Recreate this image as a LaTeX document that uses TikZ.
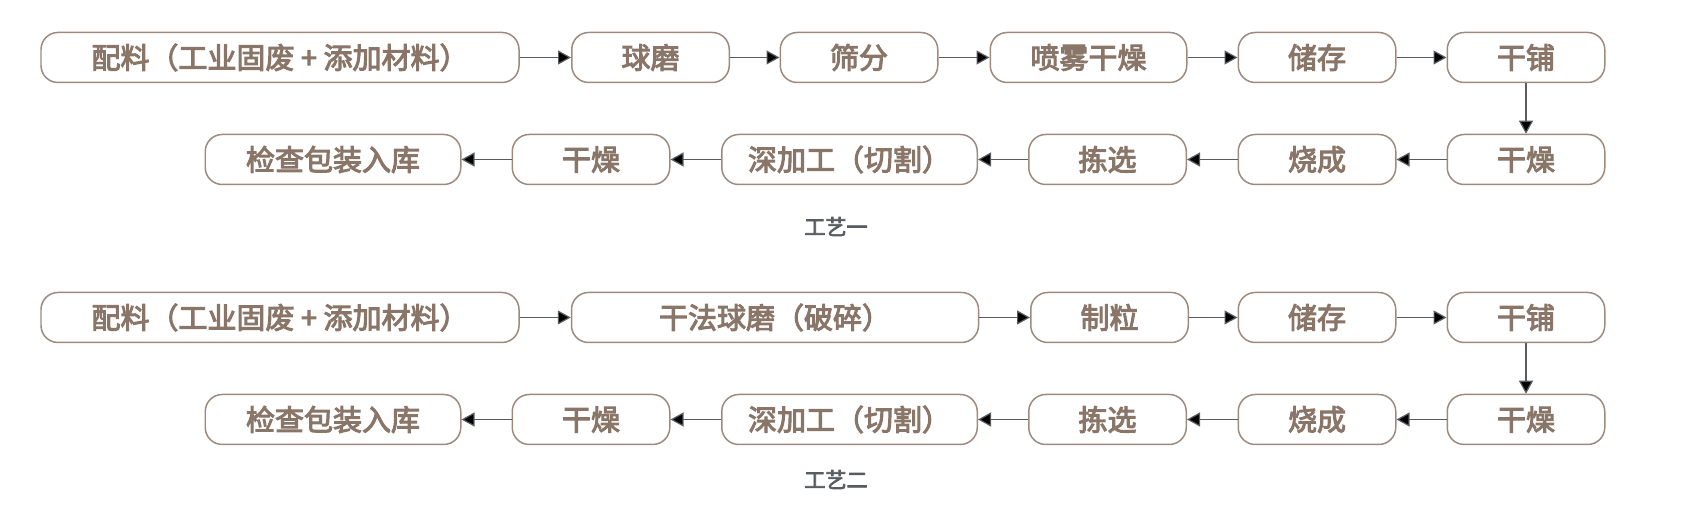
\documentclass[tikz,border=0pt]{standalone}
\usepackage{fontspec}
\setmainfont{Noto Sans CJK SC}
\newfontfamily\stagefont{Noto Sans CJK SC}[FakeBold=3.5]
\usepackage{tikz}
\usetikzlibrary{arrows.meta}

\definecolor{stagetext}{HTML}{8A7668}
\definecolor{stageline}{HTML}{9D8A7E}
\definecolor{flowline}{HTML}{585C60}

\tikzset{
	stage/.style={draw=stageline, line width=0.85pt, rounded corners=0.34cm,
		minimum height=1cm, minimum width=3.15cm, inner sep=0pt,
		text=stagetext, font=\fontsize{16.5pt}{20pt}\stagefont},
	caption/.style={text=flowline, font=\fontsize{12pt}{14pt}\stagefont},
	flow/.style={draw=flowline, line width=0.7pt, -{Triangle[length=0.26cm,width=0.28cm]}}
}

\begin{document}
\begin{tikzpicture}
	\useasboundingbox (0cm,0cm) rectangle (33.82cm,10.26cm);
	% process one
	\node[stage, minimum width=9.56cm] (a1) at (5.60cm,9.11cm) {配料（工业固废 + 添加材料）};
	\node[stage] (a2) at (13.01cm,9.11cm) {球磨};
	\node[stage] (a3) at (17.18cm,9.11cm) {筛分};
	\node[stage, minimum width=3.93cm] (a4) at (21.77cm,9.11cm) {喷雾干燥};
	\node[stage] (a5) at (26.34cm,9.11cm) {储存};
	\node[stage] (a6) at (30.52cm,9.11cm) {干铺};
	\node[stage] (b6) at (30.52cm,7.07cm) {干燥};
	\node[stage] (b5) at (26.34cm,7.07cm) {烧成};
	\node[stage] (b4) at (22.15cm,7.07cm) {拣选};
	\node[stage, minimum width=5.11cm] (b3) at (16.99cm,7.07cm) {深加工（切割）};
	\node[stage] (b2) at (11.82cm,7.07cm) {干燥};
	\node[stage, minimum width=5.11cm] (b1) at (6.66cm,7.07cm) {检查包装入库};
	\node[caption] (t1) at (16.72cm,5.73cm) {工艺一};
	\path [flow] (a1) edge (a2);
	\path [flow] (a2) edge (a3);
	\path [flow] (a3) edge (a4);
	\path [flow] (a4) edge (a5);
	\path [flow] (a5) edge (a6);
	\path [flow] (a6) edge (b6);
	\path [flow] (b6) edge (b5);
	\path [flow] (b5) edge (b4);
	\path [flow] (b4) edge (b3);
	\path [flow] (b3) edge (b2);
	\path [flow] (b2) edge (b1);

	% process two
	\node[stage, minimum width=9.56cm] (c1) at (5.60cm,3.91cm) {配料（工业固废 + 添加材料）};
	\node[stage, minimum width=8.14cm] (c2) at (15.50cm,3.91cm) {干法球磨（破碎）};
	\node[stage] (c3) at (22.19cm,3.91cm) {制粒};
	\node[stage] (c4) at (26.34cm,3.91cm) {储存};
	\node[stage] (c5) at (30.52cm,3.91cm) {干铺};
	\node[stage] (d6) at (30.52cm,1.87cm) {干燥};
	\node[stage] (d5) at (26.34cm,1.87cm) {烧成};
	\node[stage] (d4) at (22.15cm,1.87cm) {拣选};
	\node[stage, minimum width=5.11cm] (d3) at (16.99cm,1.87cm) {深加工（切割）};
	\node[stage] (d2) at (11.82cm,1.87cm) {干燥};
	\node[stage, minimum width=5.11cm] (d1) at (6.66cm,1.87cm) {检查包装入库};
	\node[caption] (t2) at (16.72cm,0.67cm) {工艺二};
	\path [flow] (c1) edge (c2);
	\path [flow] (c2) edge (c3);
	\path [flow] (c3) edge (c4);
	\path [flow] (c4) edge (c5);
	\path [flow] (c5) edge (d6);
	\path [flow] (d6) edge (d5);
	\path [flow] (d5) edge (d4);
	\path [flow] (d4) edge (d3);
	\path [flow] (d3) edge (d2);
	\path [flow] (d2) edge (d1);
\end{tikzpicture}
\end{document}
